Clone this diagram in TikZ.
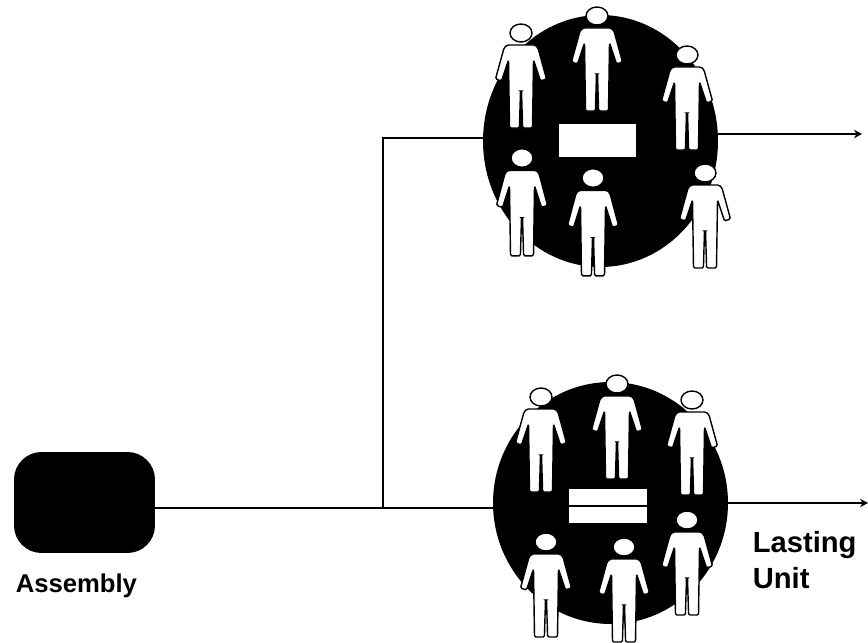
\documentclass[tikz,border=0pt]{standalone}
\usepackage{fontspec}
\setmainfont{Liberation Sans}
\usetikzlibrary{arrows.meta,shapes.geometric}
\tikzset{
  person/.pic={
    \draw[personline,rounded corners=0.8pt] (-14,12) -- (14,12) -- (17,15) -- (25.5,46) -- (19.5,48) -- (12.5,27) -- (11.5,95) -- (1.6,95) -- (0.5,58) -- (-0.5,58) -- (-1.6,95) -- (-11.5,95) -- (-12.5,27) -- (-19.5,48) -- (-25.5,46) -- (-17,15) -- cycle;
    \draw[personline] (0,0) ellipse (11 and 9);
  },
  personline/.style={draw=black,fill=white,line width=0.8pt},
  crowd/.style={ellipse,fill=black,inner sep=0pt,outer sep=0pt},
  bar/.style={rectangle,fill=white,inner sep=0pt,outer sep=0pt,minimum width=1.55cm,minimum height=0.67cm},
  label/.style={font=\bfseries\fontsize{14.6}{17}\selectfont,inner sep=0pt,anchor=base west},
  biglabel/.style={label,font=\bfseries\fontsize{16.6}{19}\selectfont},
}
\begin{document}
\begin{tikzpicture}[x=0.02cm,y=-0.02cm,>={Stealth[length=1.6mm,width=1.7mm]},line width=0.9pt]
\useasboundingbox (0,0) rectangle (868,642);
\coordinate (jointop) at (383,138);
\coordinate (joinlow) at (383,508);
\coordinate (endtop) at (862,134);
\coordinate (endlow) at (868,503);
\node[rectangle,fill=black,rounded corners=0.55cm,minimum width=2.82cm,minimum height=2.02cm,inner sep=0pt,outer sep=0pt] (assembly) at (84.5,502.5) {};
\node[crowd,minimum width=4.7cm,minimum height=5.04cm] (crowdtop) at (600.5,141) {};
\node[crowd,minimum width=4.7cm,minimum height=4.84cm] (crowdlow) at (610.5,503) {};
\node[bar] (bartop) at (597.5,140.5) {};
\node[bar] (barlow) at (608,506) {};
\draw (assembly.east |- joinlow) -- (crowdlow.west |- joinlow);
\draw (joinlow) -- (jointop) -- (crowdtop.west |- jointop);
\draw[->] (crowdtop.east |- endtop) -- (endtop);
\draw[->] (crowdlow.east |- endlow) -- (endlow);
\draw (barlow.west) -- (barlow.east);
% upper unit
\pic at (521,33) {person};
\pic at (597,16) {person};
\pic at (687,55) {person};
\pic[yscale=1.03] at (522,158) {person};
\pic[yscale=1.03] at (593,178) {person};
\pic at (705,173) {person};
% lower unit
\pic at (541,397) {person};
\pic at (617,384) {person};
\pic at (692,400) {person};
\pic at (546,542) {person};
\pic at (624,547) {person};
\pic at (687,520) {person};
\node[label] (assemblytext) at (15,592) {Assembly};
\node[biglabel] (lastingtext) at (752,552) {Lasting};
\node[biglabel] (unittext) at (752,588) {Unit};
\end{tikzpicture}
\end{document}
